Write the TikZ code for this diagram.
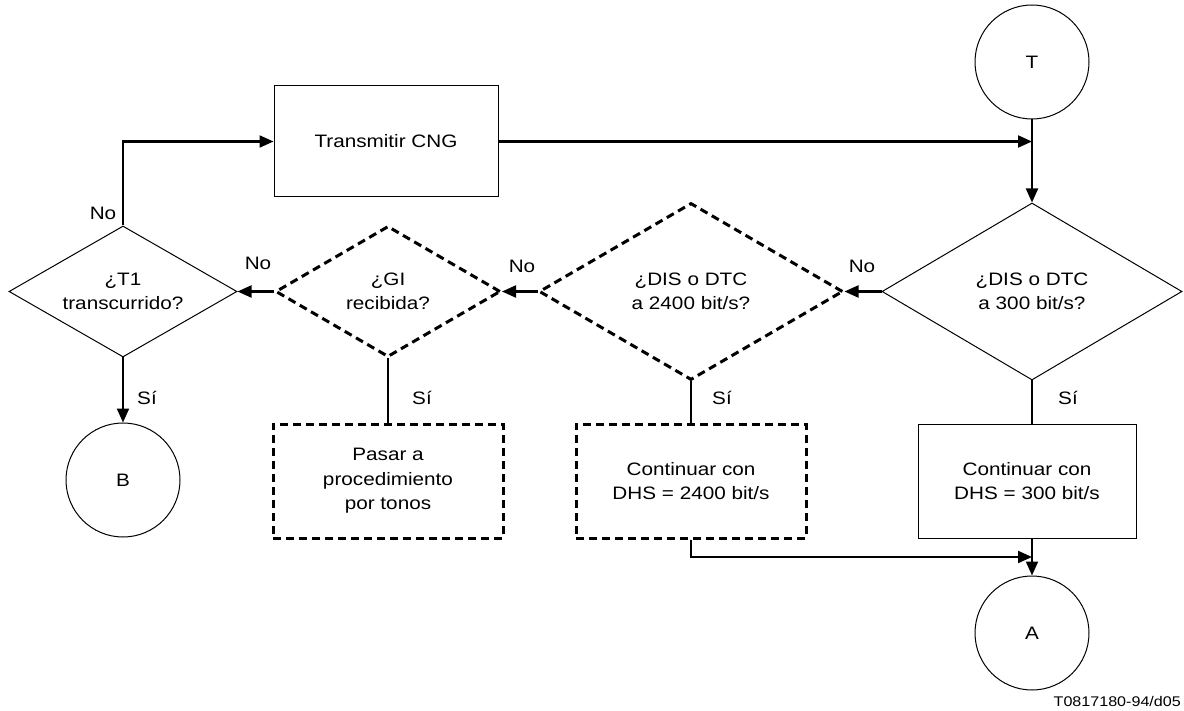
\documentclass[tikz,border=0pt]{standalone}
\usepackage{fontspec}
\setmainfont{Liberation Sans}[FakeStretch=1.15]
\usetikzlibrary{shapes.geometric,arrows.meta}
\begin{document}
\begin{tikzpicture}[x=1pt,y=-1pt,
  font=\fontsize{18}{24.5}\selectfont,
  outline/.style={draw,line width=1pt},
  dashedge/.style={draw,line width=3pt,dash pattern=on 8pt off 5pt},
  procbox/.style={rectangle,align=center,inner sep=0pt},
  decision/.style={diamond,aspect=2,align=center,inner sep=0pt},
  conn/.style={circle,inner sep=0pt,minimum size=114pt},
  flow/.style={line width=2.1pt},
  arrowflow/.style={flow,-{Triangle[length=14pt,width=12pt]}},
  lbl/.style={inner sep=0pt}
]
\useasboundingbox (0,0) rectangle (1184,711);

% shapes
\node[conn,outline] (T) at (1032,62) {T};
\node[procbox,outline,minimum width=224pt,minimum height=111pt] (cng) at (386,141.5) {Transmitir CNG};
\node[decision,outline,minimum width=300pt,minimum height=177pt] (d300) at (1032,291.5) {¿DIS o DTC\\a 300 bit/s?};
\node[decision,dashedge,minimum width=304pt,minimum height=177pt] (d2400) at (691,291.5) {¿DIS o DTC\\a 2400 bit/s?};
\node[decision,dashedge,minimum width=225pt,minimum height=131pt] (dgi) at (388,291.5) {¿GI\\recibida?};
\node[decision,outline,minimum width=228pt,minimum height=131pt] (dt1) at (123,291.5) {¿T1\\transcurrido?};
\node[conn,outline] (B) at (123,480) {B};
\node[procbox,dashedge,minimum width=230pt,minimum height=114pt] (tonos) at (388,481) {Pasar a\\procedimiento\\por tonos};
\node[procbox,dashedge,minimum width=230pt,minimum height=114pt] (c2400) at (691,481) {Continuar con\\DHS = 2400 bit/s};
\node[procbox,outline,minimum width=218pt,minimum height=114pt] (c300) at (1027,481) {Continuar con\\DHS = 300 bit/s};
\node[conn,outline] (A) at (1032,633) {A};

% junction points
\coordinate (j1) at (T.south |- cng.east);
\coordinate (j2) at (1032,557);

% connectors
\draw[arrowflow] (cng.east) -- (j1);
\draw[arrowflow] (T.south) -- (d300.north);
\draw[arrowflow] (d300.west) -- (d2400.east);
\draw[arrowflow] (d2400.west) -- (dgi.east);
\draw[arrowflow] (dgi.west) -- (dt1.east);
\draw[arrowflow] (dt1.north) |- (cng.west);
\draw[arrowflow] (dt1.south) -- (B.north);
\draw[flow] (dgi.south) -- (tonos.north);
\draw[flow] (d2400.south) -- (c2400.north);
\draw[flow] (d300.south) -- (d300.south |- c300.north);
\draw[arrowflow] (A.north |- c300.south) -- (A.north);
\draw[arrowflow] (c2400.south) |- (j2);

% labels
\node[lbl] (no1) at (862,266) {No};
\node[lbl] (no2) at (522,266) {No};
\node[lbl] (no3) at (258,263) {No};
\node[lbl] (no4) at (103,213) {No};
\node[lbl] (si1) at (147,398) {Sí};
\node[lbl] (si2) at (422,398) {Sí};
\node[lbl] (si3) at (722,398) {Sí};
\node[lbl] (si4) at (1068,398) {Sí};
\node[lbl,anchor=south east,font=\fontsize{14}{16}\selectfont] (ref) at (1181,707) {T0817180-94/d05};
\end{tikzpicture}
\end{document}
